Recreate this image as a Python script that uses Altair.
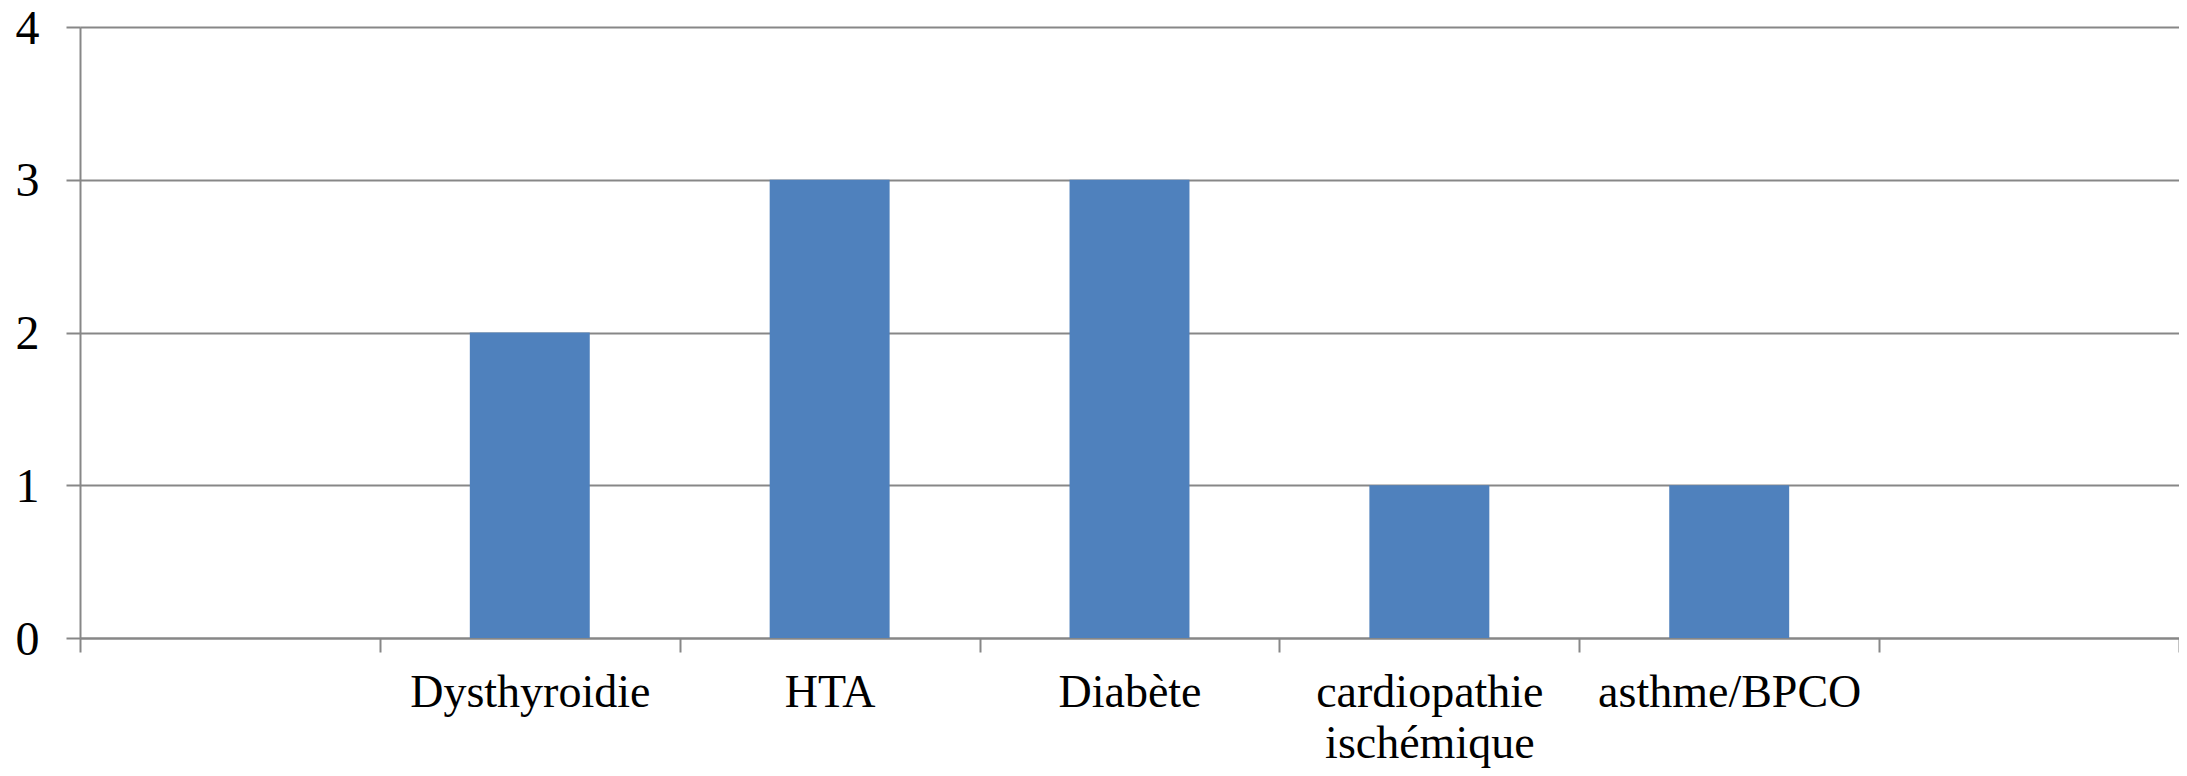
import altair as alt
import pandas as pd

# category slots along the x axis (first and last are empty slots)
slots = ["_vide1", "Dysthyroidie", "HTA", "Diabète", "cardiopathie|ischémique", "asthme/BPCO", "_vide2"]
categories = ["Dysthyroidie", "HTA", "Diabète", "cardiopathie|ischémique", "asthme/BPCO"]
values = [2, 3, 3, 1, 1]
y_ticks = [0, 1, 2, 3, 4]

df = pd.DataFrame({"cat": categories, "value": values})

FONT = "Liberation Serif"
GRAY = "#878787"
BLUE = "#4F81BD"

chart = alt.Chart(df).mark_bar(
    width=alt.RelativeBandSize(0.4), color=BLUE
).encode(
    x=alt.X(
        "cat:N",
        sort=slots,
        scale=alt.Scale(domain=slots, paddingInner=0, paddingOuter=0),
        axis=alt.Axis(
            title=None,
            labelAngle=0,
            tickBand="extent",
            labelExpr="indexof(datum.label, '_') == 0 ? '' : split(datum.label, '|')",
            labelFont=FONT,
            labelFontSize=46,
            labelLineHeight=51,
            labelColor="black",
            labelBaseline="top",
            labelPadding=18,
            labelLimit=0,
            labelOverlap=False,
            tickSize=14,
            tickWidth=2,
            tickColor=GRAY,
            domainColor=GRAY,
            domainWidth=2,
            grid=False,
        ),
    ),
    y=alt.Y(
        "value:Q",
        scale=alt.Scale(domain=[0, 4], nice=False),
        axis=alt.Axis(
            title=None,
            values=y_ticks,
            format="d",
            grid=True,
            gridColor=GRAY,
            gridWidth=2,
            tickSize=14,
            tickWidth=2,
            tickColor=GRAY,
            domainColor=GRAY,
            domainWidth=2,
            labelFont=FONT,
            labelFontSize=48,
            labelColor="black",
            labelPadding=27,
            labelOffset=2,
        ),
    ),
).properties(
    width=2099,
    height=611,
    autosize=alt.AutoSizeParams(type="none"),
    padding={"left": 72, "top": 19, "right": 0, "bottom": 130},
).configure_view(stroke=None).configure(background="white")

chart.save("out.html", embed_options={"renderer": "svg", "actions": False})
